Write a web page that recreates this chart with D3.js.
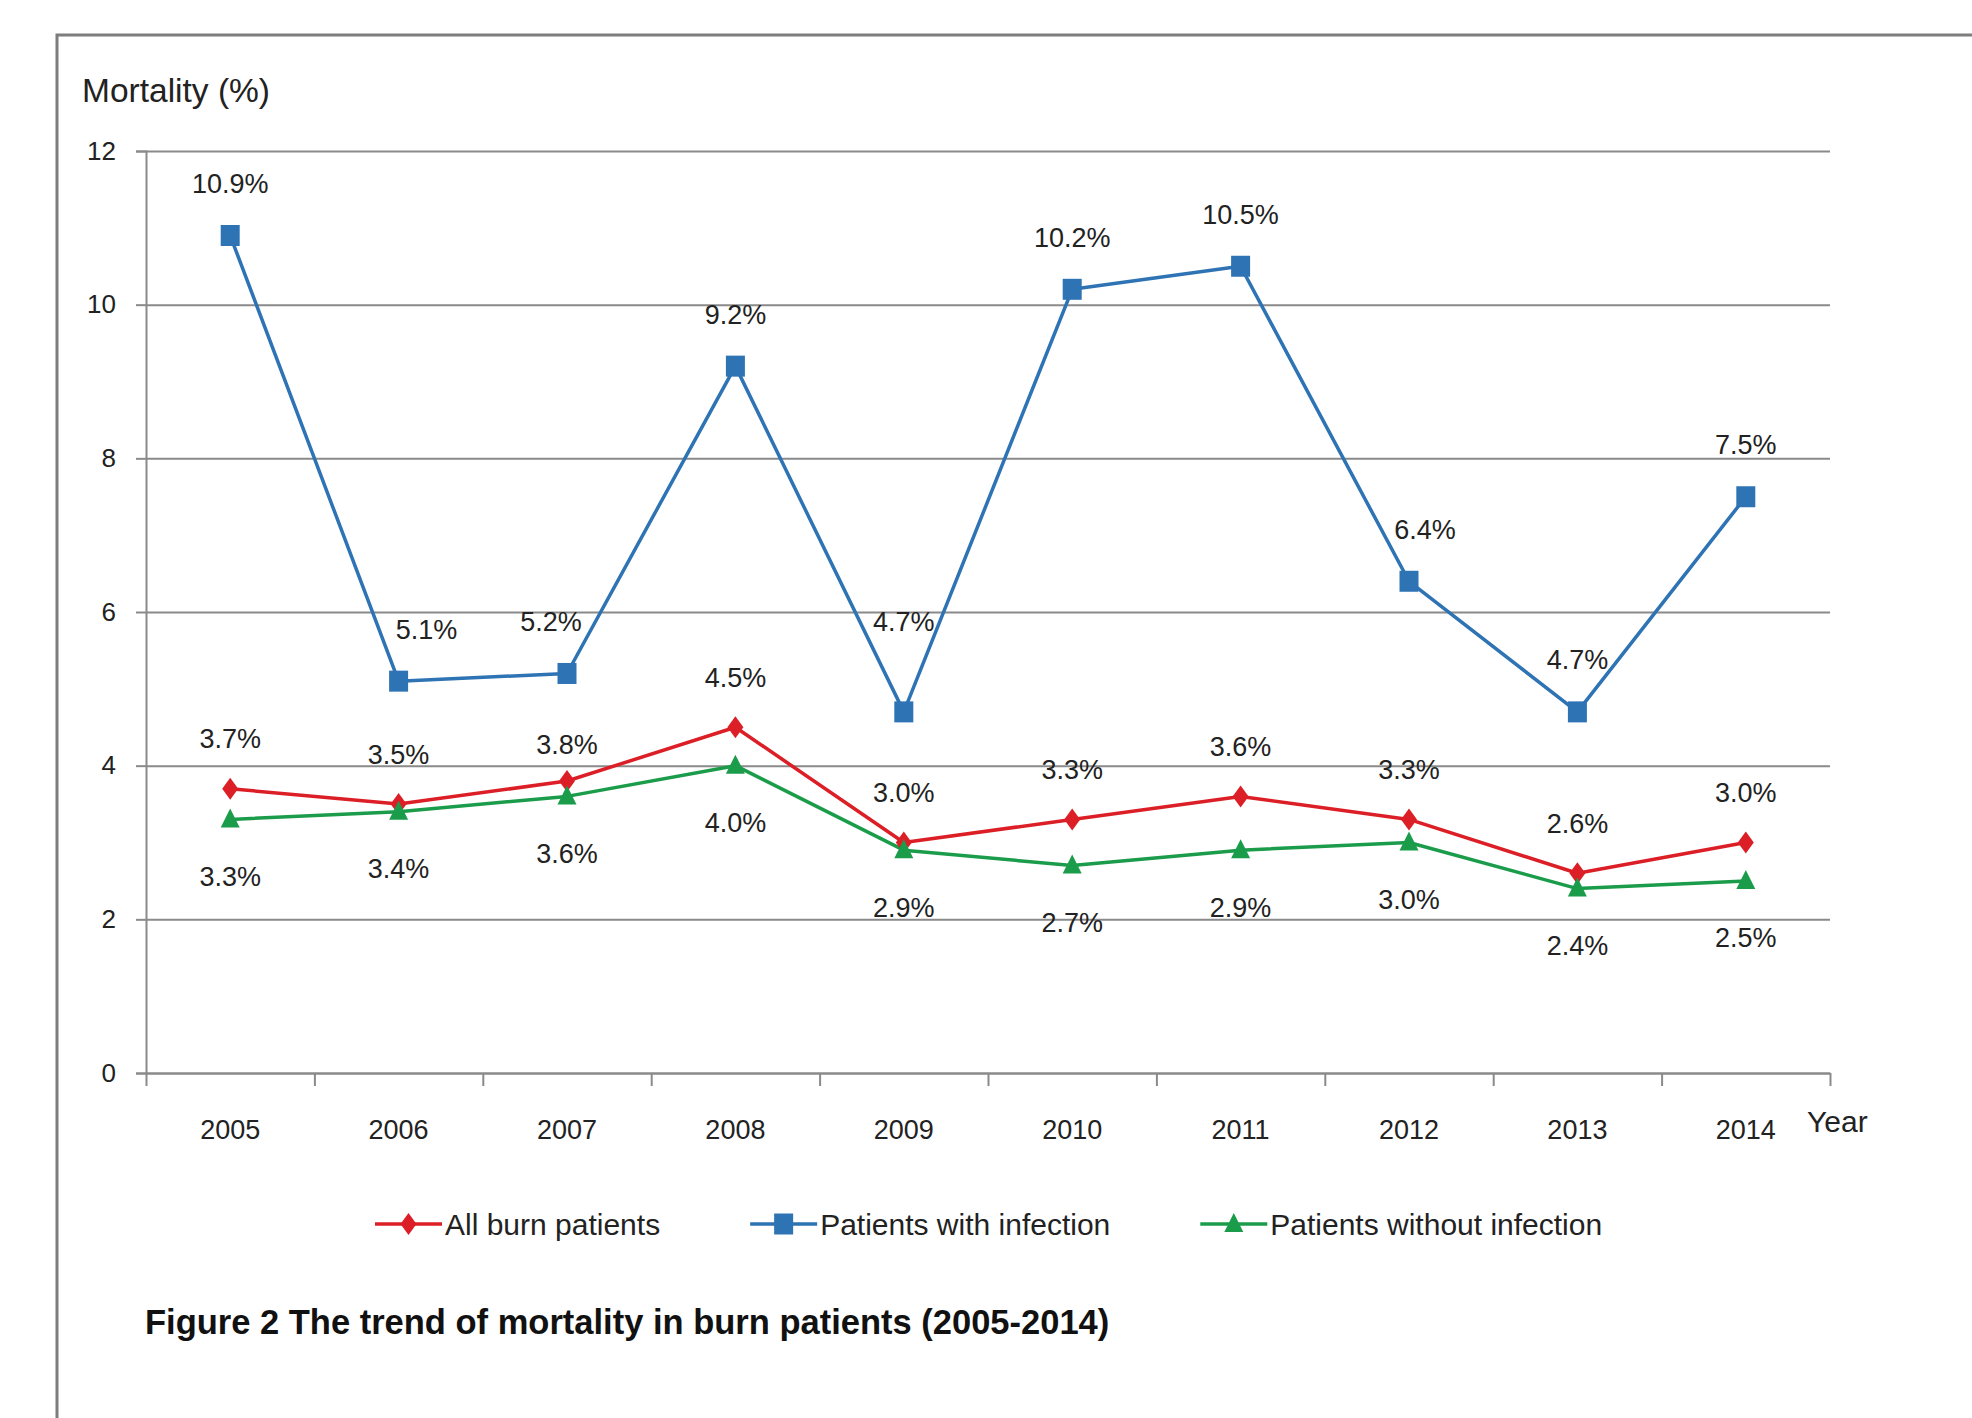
<!DOCTYPE html>
<html>
<head>
<meta charset="utf-8">
<script src="https://cdn.jsdelivr.net/npm/d3@7"></script>
<style>
  body { margin: 0; background: #fff; }
  .tick text, .lbl, .legendText, .axisTitle { font-family: 'Liberation Sans', Arial, sans-serif; fill: #222; }
  .caption { font-family: 'Liberation Sans', Arial, sans-serif; font-weight: bold; fill: #111; }
</style>
</head>
<body>
<div id="chart"></div>
<script>
'use strict';
// data
const years = [2005, 2006, 2007, 2008, 2009, 2010, 2011, 2012, 2013, 2014]
const allBurn = [3.7, 3.5, 3.8, 4.5, 3.0, 3.3, 3.6, 3.3, 2.6, 3.0]
const withInfection = [10.9, 5.1, 5.2, 9.2, 4.7, 10.2, 10.5, 6.4, 4.7, 7.5]
const withoutInfection = [3.3, 3.4, 3.6, 4.0, 2.9, 2.7, 2.9, 3.0, 2.4, 2.5]
const yTicks = [0, 2, 4, 6, 8, 10, 12]
const seriesNames = ['All burn patients', 'Patients with infection', 'Patients without infection']

const W = 1972, H = 1418
const margin = { top: 151, left: 146 }
const width = 1684
const height = 922
const red = '#dc1f26', blue = '#2e73b4', green = '#1b9c4b'
const gridColor = '#8a8a8a'

// marker shapes around (0,0)
const shapes = {
    diamond: 'M0,-11L8,0L0,11L-8,0Z',
    square: 'M-9.5,-10.5H9.5V10.5H-9.5Z',
    triangle: 'M0,-11L9.5,8L-9.5,8Z'
}
const series = [
    { name: seriesNames[0], values: allBurn, color: red, shape: 'diamond', labelDy: -50 },
    { name: seriesNames[1], values: withInfection, color: blue, shape: 'square', labelDy: -52 },
    { name: seriesNames[2], values: withoutInfection, color: green, shape: 'triangle', labelDy: 57 }
]
// a few labels were moved by hand in the original figure
const labelNudge = {
    'Patients with infection|2006': [28, 0],
    'Patients with infection|2007': [-16, 0],
    'Patients with infection|2009': [0, -38],
    'Patients with infection|2012': [16, 0],
    'All burn patients|2007': [0, 14]
}

const root = d3.select('#chart').append('svg')
    .attr('width', W)
    .attr('height', H)
root.append('rect').attr('width', W).attr('height', H).attr('fill', '#fff')
root.append('path') // outer frame (top and left only visible)
    .attr('d', `M57,${H} V35 H${W}`)
    .attr('fill', 'none')
    .attr('stroke', '#7d7d7d')
    .attr('stroke-width', 3)

const svg = root.append('g')
    .attr('transform', `translate(${margin.left},${margin.top})`)

const x = d3.scaleBand().domain(years).range([0, width])
const xb = d3.scaleLinear().domain([0, years.length]).range([0, width])
const y = d3.scaleLinear().domain([0, 12]).range([height, 0])
const cx = d => x(d) + x.bandwidth() / 2

svg.append('g') // horizontal gridlines
    .call(d3.axisLeft(y).tickValues(yTicks).tickSize(-width).tickFormat(''))
    .call(g => g.select('.domain').remove())
    .call(g => g.selectAll('line').attr('stroke', gridColor).attr('stroke-width', 2))

svg.append('g') // y axis
    .call(d3.axisLeft(y).tickValues(yTicks).tickSize(10).tickPadding(20))
    .call(g => g.select('.domain').attr('stroke', gridColor).attr('stroke-width', 2))
    .call(g => g.selectAll('line').attr('stroke', gridColor).attr('stroke-width', 2))
    .call(g => g.selectAll('text').attr('font-size', 26))

svg.append('g') // x axis line with ticks between categories
    .attr('transform', `translate(0,${height})`)
    .call(d3.axisBottom(xb).ticks(years.length).tickSize(13).tickFormat('').tickSizeOuter(0))
    .call(g => g.select('.domain').attr('stroke', gridColor).attr('stroke-width', 2))
    .call(g => g.selectAll('line').attr('stroke', gridColor).attr('stroke-width', 2))

svg.append('g') // x category labels
    .attr('transform', `translate(0,${height})`)
    .call(d3.axisBottom(x).tickSize(0).tickPadding(47))
    .call(g => g.select('.domain').remove())
    .call(g => g.selectAll('text').attr('font-size', 27))

svg.append('text')
    .attr('class', 'axisTitle')
    .attr('x', 82 - margin.left)
    .attr('y', 102 - margin.top)
    .attr('font-size', 33.5)
    .text('Mortality (%)')

svg.append('text')
    .attr('class', 'axisTitle')
    .attr('x', width + 1807 - 1830)
    .attr('y', height + 59)
    .attr('font-size', 30)
    .text('Year')

const line = d3.line()
    .x((v, i) => cx(years[i]))
    .y(v => y(v))

series.forEach(s => {
    svg.append('path').datum(s.values)
        .attr('fill', 'none')
        .attr('stroke', s.color)
        .attr('stroke-width', 3.5)
        .attr('stroke-linejoin', 'round')
        .attr('d', line)
})
series.forEach(s => {
    svg.append('g').selectAll('path')
        .data(s.values).enter().append('path')
        .attr('d', shapes[s.shape])
        .attr('fill', s.color)
        .attr('transform', (v, i) => `translate(${cx(years[i])},${y(v)})`)
})
series.forEach(s => {
    svg.append('g').selectAll('text')
        .data(s.values).enter().append('text')
        .attr('class', 'lbl')
        .attr('font-size', 27)
        .attr('text-anchor', 'middle')
        .attr('x', (v, i) => cx(years[i]) + (labelNudge[s.name + '|' + years[i]] || [0, 0])[0])
        .attr('y', (v, i) => y(v) + s.labelDy + (labelNudge[s.name + '|' + years[i]] || [0, 0])[1])
        .attr('dy', '0.35em')
        .text(v => v.toFixed(1) + '%')
})

// legend
const legend = root.append('g').attr('transform', 'translate(0,1224)')
let lx = 375
series.forEach(s => {
    const item = legend.append('g').attr('transform', `translate(${lx},0)`)
    item.append('line')
        .attr('x1', 0).attr('x2', 67)
        .attr('stroke', s.color).attr('stroke-width', 3.5)
    item.append('path')
        .attr('d', shapes[s.shape])
        .attr('fill', s.color)
        .attr('transform', 'translate(33.5,0)')
    const t = item.append('text')
        .attr('class', 'legendText')
        .attr('x', 70)
        .attr('y', 11)
        .attr('font-size', 30)
        .text(s.name)
    lx += 70 + t.node().getComputedTextLength() + 90
})

root.append('text')
    .attr('class', 'caption')
    .attr('x', 145)
    .attr('y', 1334)
    .attr('font-size', 34.5)
    .text('Figure 2 The trend of mortality in burn patients (2005-2014)')
</script>
</body>
</html>
